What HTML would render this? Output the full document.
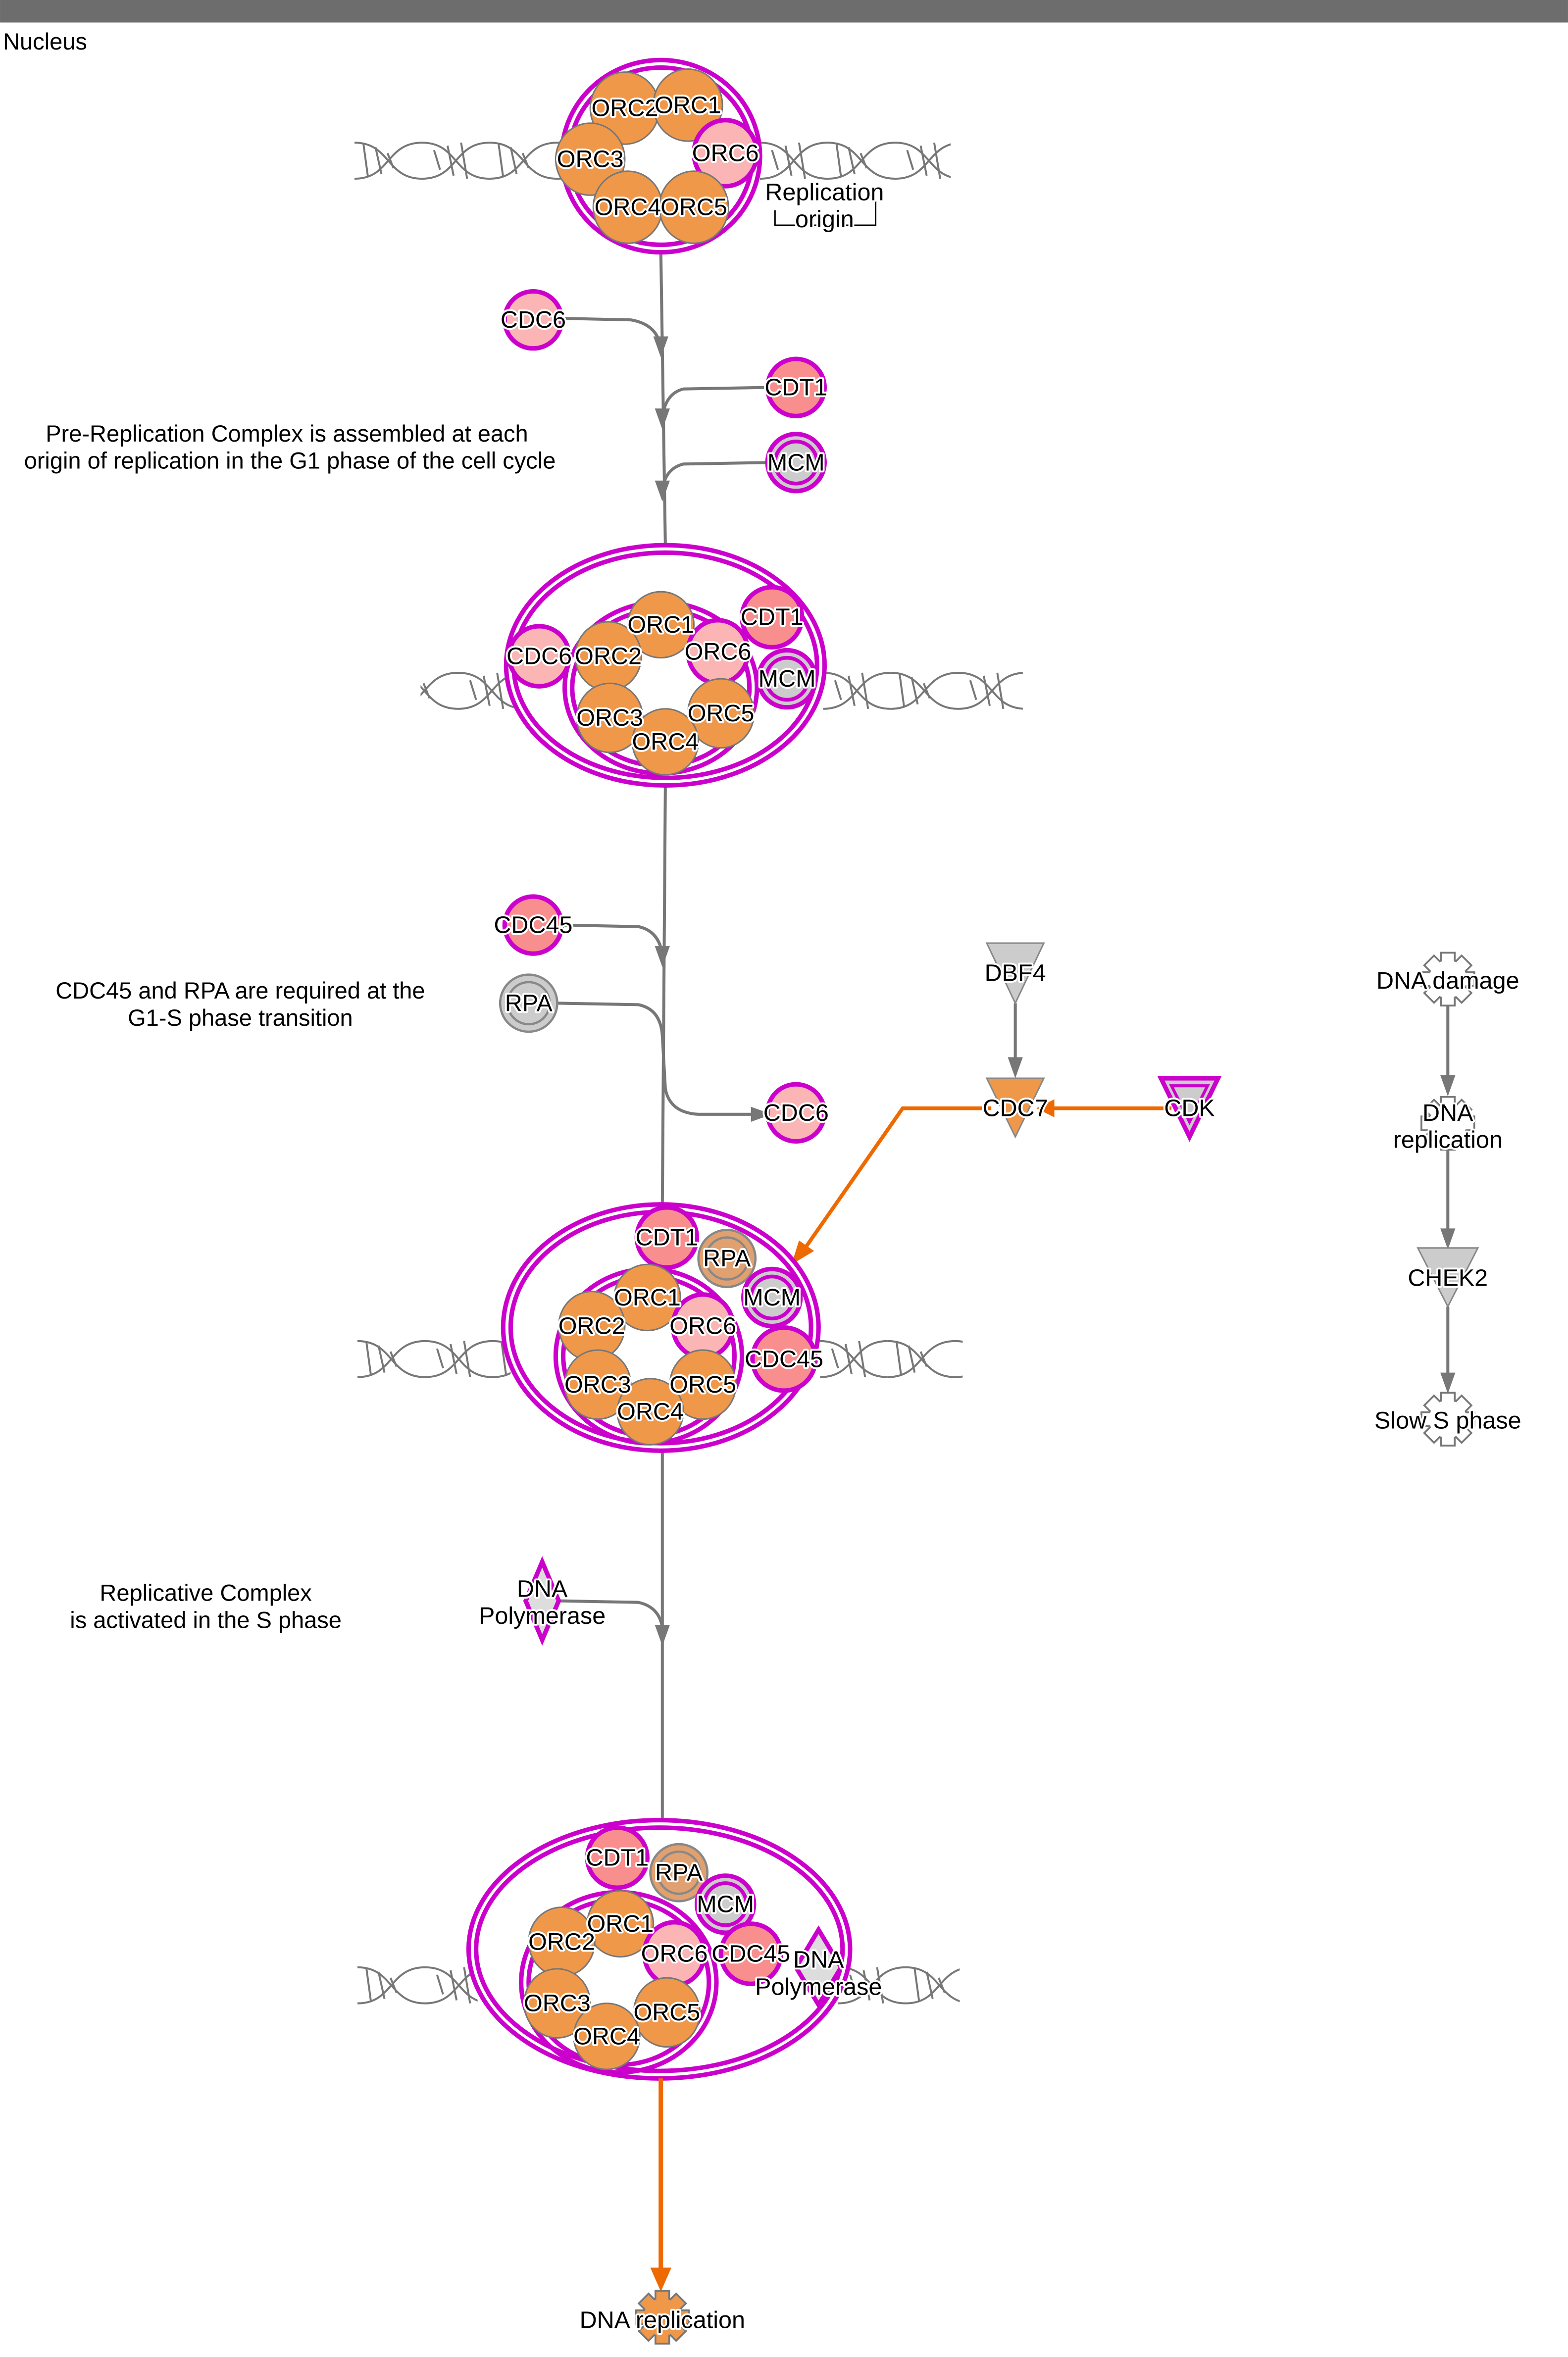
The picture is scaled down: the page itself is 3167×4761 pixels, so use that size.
<!DOCTYPE html>
<html><head><meta charset="utf-8"><style>
html,body{margin:0;padding:0;background:#fff;}
svg{display:block;}
text{font-family:"Liberation Sans",Arial,sans-serif;font-size:15.5px;fill:#000;}
.l{text-anchor:middle;dominant-baseline:central;stroke:#fff;stroke-width:2.5;paint-order:stroke;stroke-linejoin:round;font-size:16px;}
.t{text-anchor:middle;font-size:15.5px;}
.or{fill:#F0984A;stroke:#777;stroke-width:1;}
.pk{fill:#FBB5B5;stroke:#CC00CC;stroke-width:3;}
.sa{fill:#F98E8E;stroke:#CC00CC;stroke-width:3;}
.ring{fill:none;stroke:#CC00CC;stroke-width:3;}
.wr{fill:#fff;stroke:#CC00CC;stroke-width:3;}
.ln{fill:none;stroke:#777;stroke-width:2;}
.ah{fill:#777;}
.hx{fill:none;stroke:#777;stroke-width:1.3;}
</style></head><body>
<svg width="3167" height="4761" viewBox="0 0 1044 1569.5" xmlns="http://www.w3.org/2000/svg">
<defs>
<g id="per">
<path class="hx" d="M0,12 C24,12 21,-12 45,-12 C69,-12 66,12 90,12"/>
<path class="hx" d="M0,-12 C24,-12 21,12 45,12 C69,12 66,-12 90,-12"/>
<path class="hx" d="M6,-11 L9,11 M14,-9 L18,9 M22,-5 L26,5 M53,-7 L57,6 M62,-10 L66,10 M71,-12 L75,12"/>
</g>
<g id="gearS">
<circle r="12.5"/>
<rect x="-4" y="-17" width="8" height="34"/>
<rect x="-4" y="-17" width="8" height="34" transform="rotate(45)"/>
<rect x="-4" y="-17" width="8" height="34" transform="rotate(90)"/>
<rect x="-4" y="-17" width="8" height="34" transform="rotate(135)"/>
</g>
<g id="gear"><use href="#gearS" stroke="#777" stroke-width="2.4" fill="#777"/><use href="#gearS" fill="#fff"/></g>
<g id="gearO"><use href="#gearS" stroke="#777" stroke-width="2.4" fill="#777"/><use href="#gearS" fill="#F0984A"/></g>
</defs>

<rect x="0" y="0" width="1044" height="15" fill="#6d6d6d"/>
<text x="2" y="33" font-size="14">Nucleus</text>

<!-- helices -->
<svg x="236" y="93" width="140" height="28" viewBox="0 -14 140 28"><use href="#per" x="0"/><use href="#per" x="90"/></svg>
<svg x="506" y="93" width="127" height="28" viewBox="0 -14 127 28"><use href="#per" x="-45"/><use href="#per" x="45"/></svg>
<svg x="280" y="446" width="62" height="28" viewBox="0 -14 62 28"><use href="#per" x="-20"/></svg>
<svg x="548" y="446" width="133" height="28" viewBox="0 -14 133 28"><use href="#per" x="-45"/><use href="#per" x="45"/></svg>
<svg x="238" y="891" width="102" height="28" viewBox="0 -14 102 28"><use href="#per" x="0"/><use href="#per" x="90"/></svg>
<svg x="546" y="891" width="95" height="28" viewBox="0 -14 95 28"><use href="#per" x="-45"/><use href="#per" x="45"/></svg>
<svg x="238" y="1308" width="80" height="28" viewBox="0 -14 80 28"><use href="#per" x="0"/></svg>
<svg x="558" y="1308" width="81" height="28" viewBox="0 -14 81 28"><use href="#per" x="-45"/><use href="#per" x="45"/></svg>

<!-- main vertical lines -->
<path class="ln" d="M440,168 L443,363"/>
<path class="ln" d="M443,523 L441,802"/>
<path class="ln" d="M441,966 L441,1213"/>

<!-- connectors top -->
<path class="ln" d="M374,212 L420,213 Q438,216 440,232"/>
<polygon class="ah" points="435,224 445,224 440,238"/>
<path class="ln" d="M511,258 L455,259 Q443,262 441,278"/>
<polygon class="ah" points="436,272 446,272 441,286"/>
<path class="ln" d="M511,308 L455,309 Q443,312 441,326"/>
<polygon class="ah" points="436,320 446,320 441,334"/>

<text class="t" x="191" y="294">Pre-Replication Complex is assembled at each</text>
<text class="t" x="193" y="312">origin of replication in the G1 phase of the cell cycle</text>

<!-- Replication origin -->
<path d="M516,140 L516,150 L583,150 L583,134" fill="none" stroke="#000" stroke-width="1"/>
<text class="l" x="549" y="128">Replication</text>
<text class="l" x="549" y="146">origin</text>

<!-- complex 1 -->
<ellipse class="wr" cx="440" cy="104" rx="66" ry="64"/>
<ellipse class="ring" cx="440" cy="104" rx="61" ry="59"/>
<ellipse class="or" cx="416" cy="72" rx="23" ry="24"/>
<ellipse class="or" cx="458" cy="70" rx="23" ry="24"/>
<ellipse class="or" cx="393" cy="106" rx="23" ry="24"/>
<ellipse class="pk" cx="483" cy="102" rx="21" ry="22"/>
<ellipse class="or" cx="418" cy="138" rx="23" ry="24"/>
<ellipse class="or" cx="462" cy="138" rx="23" ry="24"/>
<text class="l" x="416" y="72">ORC2</text><text class="l" x="458" y="70">ORC1</text>
<text class="l" x="393" y="106">ORC3</text><text class="l" x="483" y="102">ORC6</text>
<text class="l" x="418" y="138">ORC4</text><text class="l" x="462" y="138">ORC5</text>

<!-- free nodes top -->
<circle class="pk" cx="355" cy="213" r="19"/><text class="l" x="355" y="213">CDC6</text>
<circle class="sa" cx="530" cy="258" r="19"/><text class="l" x="530" y="258">CDT1</text>
<circle cx="530" cy="308" r="19" fill="#ccc" stroke="#CC00CC" stroke-width="3"/>
<circle cx="530" cy="308" r="14" fill="none" stroke="#CC00CC" stroke-width="2.5"/>
<text class="l" x="530" y="308">MCM</text>

<!-- complex 2 -->
<ellipse class="wr" cx="443" cy="443" rx="106" ry="80"/>
<ellipse class="ring" cx="443" cy="443" rx="101" ry="75"/>
<ellipse class="ring" cx="440" cy="458" rx="64" ry="57"/>
<ellipse class="ring" cx="440" cy="458" rx="59" ry="52"/>
<circle class="pk" cx="359" cy="437" r="20"/><text class="l" x="359" y="437">CDC6</text>
<circle class="sa" cx="514" cy="411" r="20"/><text class="l" x="514" y="411">CDT1</text>
<circle cx="524" cy="452" r="19" fill="#ccc" stroke="#CC00CC" stroke-width="3"/>
<circle cx="524" cy="452" r="14" fill="none" stroke="#CC00CC" stroke-width="2.5"/>
<text class="l" x="524" y="452">MCM</text>
<ellipse class="or" cx="440" cy="416" rx="22" ry="22"/>
<ellipse class="or" cx="405" cy="437" rx="22" ry="23"/>
<ellipse class="pk" cx="478" cy="434" rx="20" ry="21"/>
<ellipse class="or" cx="406" cy="478" rx="22" ry="23"/>
<ellipse class="or" cx="480" cy="475" rx="22" ry="23"/>
<ellipse class="or" cx="443" cy="494" rx="22" ry="22"/>
<text class="l" x="440" y="416">ORC1</text><text class="l" x="405" y="437">ORC2</text>
<text class="l" x="478" y="434">ORC6</text><text class="l" x="406" y="478">ORC3</text>
<text class="l" x="480" y="475">ORC5</text><text class="l" x="443" y="494">ORC4</text>

<!-- connectors middle -->
<path class="ln" d="M374,616 L425,617 Q439,620 441,636"/>
<polygon class="ah" points="436,630 446,630 441,644"/>
<path class="ln" d="M371,668 L425,669 Q440,672 441,690 L443,725 Q446,741 465,742 L508,742"/>
<polygon class="ah" points="500,737 500,747 514,742"/>
<circle class="sa" cx="355" cy="616" r="19"/><text class="l" x="355" y="616">CDC45</text>
<circle cx="352" cy="668" r="19" fill="#ccc" stroke="#888" stroke-width="1.5"/>
<circle cx="352" cy="668" r="14" fill="none" stroke="#888" stroke-width="1.5"/>
<text class="l" x="352" y="668">RPA</text>
<circle class="pk" cx="530" cy="741" r="19"/><text class="l" x="530" y="741">CDC6</text>

<text class="t" x="160" y="665">CDC45 and RPA are required at the</text>
<text class="t" x="160" y="683">G1-S phase transition</text>

<!-- DBF4 / CDC7 / CDK -->
<path class="ln" d="M676,668 L676,708"/>
<polygon class="ah" points="671,704 681,704 676,718"/>
<polygon points="657,628 695,628 676,668" fill="#ccc" stroke="#888" stroke-width="1"/>
<text class="l" x="676" y="648">DBF4</text>
<path d="M780,738 L700,738" fill="none" stroke="#EE6A00" stroke-width="2.5"/>
<polygon points="702,732 702,744 690,738" fill="#EE6A00"/>
<path d="M660,738 L601,738 L534,834" fill="none" stroke="#EE6A00" stroke-width="2.5"/>
<polygon points="527,842 532,826 542,833" fill="#EE6A00"/>
<polygon points="657,718 695,718 676,757" fill="#F0984A" stroke="#888" stroke-width="1"/>
<text class="l" x="676" y="738">CDC7</text>
<polygon points="773,718 811,718 792,757" fill="#ccc" stroke="#CC00CC" stroke-width="3"/>
<polygon points="780,723 804,723 792,747" fill="none" stroke="#CC00CC" stroke-width="2"/>
<text class="l" x="792" y="738">CDK</text>

<!-- right chain -->
<path class="ln" d="M964,670 L964,720"/><polygon class="ah" points="959,716 969,716 964,730"/>
<path class="ln" d="M964,762 L964,822"/><polygon class="ah" points="959,818 969,818 964,832"/>
<path class="ln" d="M964,870 L964,918"/><polygon class="ah" points="959,914 969,914 964,928"/>
<use href="#gear" x="964" y="652"/><text class="l" x="964" y="653">DNA damage</text>
<use href="#gear" x="964" y="748"/><text class="l" x="964" y="741">DNA</text><text class="l" x="964" y="759">replication</text>
<polygon points="944,831 984,831 964,870" fill="#ccc" stroke="#888" stroke-width="1"/>
<text class="l" x="964" y="851">CHEK2</text>
<use href="#gear" x="964" y="945"/><text class="l" x="964" y="946">Slow S phase</text>

<!-- complex 3 -->
<ellipse class="wr" cx="440" cy="884" rx="105" ry="82"/>
<ellipse class="ring" cx="440" cy="884" rx="100" ry="77"/>
<ellipse class="ring" cx="432" cy="903" rx="62" ry="58"/>
<ellipse class="ring" cx="432" cy="903" rx="57" ry="53"/>
<circle class="sa" cx="444" cy="824" r="20"/><text class="l" x="444" y="824">CDT1</text>
<circle cx="484" cy="838" r="19" fill="#E0A070" stroke="#888" stroke-width="1.5"/>
<circle cx="484" cy="838" r="14" fill="none" stroke="#888" stroke-width="1.5"/>
<text class="l" x="484" y="838">RPA</text>
<circle cx="514" cy="864" r="19" fill="#ccc" stroke="#CC00CC" stroke-width="3"/>
<circle cx="514" cy="864" r="14" fill="none" stroke="#CC00CC" stroke-width="2.5"/>
<text class="l" x="514" y="864">MCM</text>
<circle class="sa" cx="522" cy="905" r="21"/><text class="l" x="522" y="905">CDC45</text>
<ellipse class="or" cx="431" cy="864" rx="22" ry="22"/>
<ellipse class="or" cx="394" cy="883" rx="22" ry="23"/>
<ellipse class="pk" cx="468" cy="883" rx="20" ry="21"/>
<ellipse class="or" cx="398" cy="922" rx="22" ry="23"/>
<ellipse class="or" cx="468" cy="922" rx="22" ry="23"/>
<ellipse class="or" cx="433" cy="940" rx="22" ry="22"/>
<text class="l" x="431" y="864">ORC1</text><text class="l" x="394" y="883">ORC2</text>
<text class="l" x="468" y="883">ORC6</text><text class="l" x="398" y="922">ORC3</text>
<text class="l" x="468" y="922">ORC5</text><text class="l" x="433" y="940">ORC4</text>

<!-- DNA polymerase connector -->
<path class="ln" d="M372,1066 L425,1067 Q439,1070 441,1084"/>
<polygon class="ah" points="436,1082 446,1082 441,1096"/>
<polygon points="361,1040 372,1066 361,1092 350,1066" fill="#ddd" stroke="#CC00CC" stroke-width="3"/>
<text class="l" x="361" y="1058">DNA</text>
<text class="l" x="361" y="1076">Polymerase</text>
<text class="t" x="137" y="1066">Replicative Complex</text>
<text class="t" x="137" y="1084">is activated in the S phase</text>

<!-- complex 4 -->
<ellipse class="wr" cx="439" cy="1298" rx="127" ry="86"/>
<ellipse class="ring" cx="439" cy="1298" rx="122" ry="81"/>
<ellipse class="ring" cx="412" cy="1320" rx="65" ry="60"/>
<ellipse class="ring" cx="412" cy="1320" rx="60" ry="55"/>
<circle class="sa" cx="411" cy="1237" r="20"/><text class="l" x="411" y="1237">CDT1</text>
<circle cx="452" cy="1247" r="19" fill="#E0A070" stroke="#888" stroke-width="1.5"/>
<circle cx="452" cy="1247" r="14" fill="none" stroke="#888" stroke-width="1.5"/>
<text class="l" x="452" y="1247">RPA</text>
<circle cx="483" cy="1268" r="19" fill="#ccc" stroke="#CC00CC" stroke-width="3"/>
<circle cx="483" cy="1268" r="14" fill="none" stroke="#CC00CC" stroke-width="2.5"/>
<text class="l" x="483" y="1268">MCM</text>
<circle class="sa" cx="500" cy="1301" r="20"/><text class="l" x="500" y="1301">CDC45</text>
<polygon points="545,1285 560,1310 545,1335 530,1310" fill="#ddd" stroke="#CC00CC" stroke-width="3"/>
<text class="l" x="545" y="1305">DNA</text><text class="l" x="545" y="1323">Polymerase</text>
<ellipse class="or" cx="413" cy="1281" rx="22" ry="22"/>
<ellipse class="or" cx="374" cy="1293" rx="22" ry="23"/>
<ellipse class="pk" cx="449" cy="1301" rx="20" ry="21"/>
<ellipse class="or" cx="371" cy="1334" rx="22" ry="23"/>
<ellipse class="or" cx="444" cy="1340" rx="22" ry="23"/>
<ellipse class="or" cx="404" cy="1356" rx="22" ry="22"/>
<text class="l" x="413" y="1281">ORC1</text><text class="l" x="374" y="1293">ORC2</text>
<text class="l" x="449" y="1301">ORC6</text><text class="l" x="371" y="1334">ORC3</text>
<text class="l" x="444" y="1340">ORC5</text><text class="l" x="404" y="1356">ORC4</text>

<!-- bottom orange -->
<path d="M440,1384 L440,1512" fill="none" stroke="#EE6A00" stroke-width="3"/>
<polygon points="433,1510 447,1510 440,1526" fill="#EE6A00"/>
<use href="#gearO" x="441" y="1543"/>
<text class="l" x="441" y="1545">DNA replication</text>
</svg>
</body></html>
